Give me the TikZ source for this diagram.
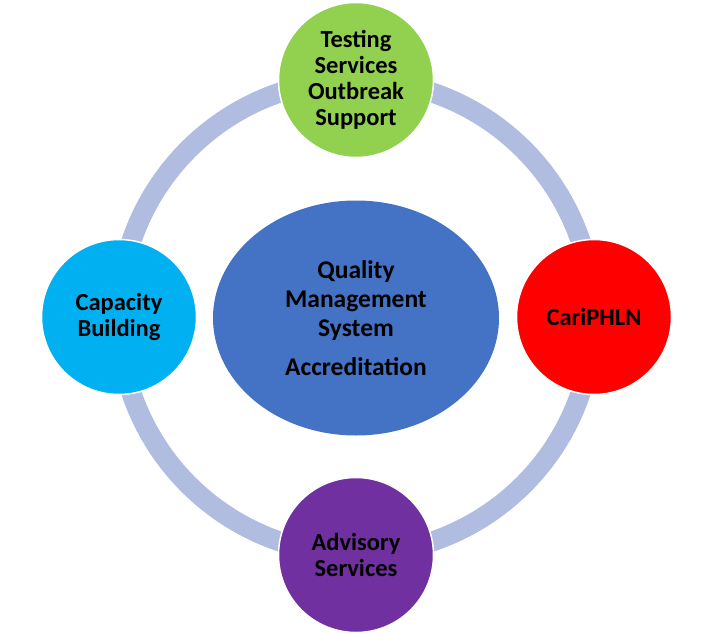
\documentclass[tikz,border=0pt]{standalone}
\usepackage{fontspec}
\setmainfont{Carlito}
\usetikzlibrary{shapes.geometric}
\definecolor{ringblue}{HTML}{B0BCE0}
\definecolor{hubblue}{HTML}{4472C4}
\definecolor{testgreen}{HTML}{92D050}
\definecolor{capcyan}{HTML}{00B0F0}
\definecolor{netred}{HTML}{FF0000}
\definecolor{advpurple}{HTML}{7030A0}

\begin{document}
\begin{tikzpicture}[x=1pt, y=-1pt,
  every node/.style={font=\fontsize{24.5}{26}\selectfont\bfseries, align=center, text=black},
  spoke/.style={circle, draw=white, line width=1.5pt, minimum size=155pt, inner sep=0pt},
  ring/.style={line width=20pt, ringblue}]
  \useasboundingbox (0,0) rectangle (712,634);
  \coordinate (C) at (356,317);
  \draw[ring] (C) circle (237pt);

  \node (QMS) at (356,318) [ellipse, fill=hubblue, inner sep=0pt, minimum width=286pt, minimum height=235pt, font=\fontsize{25.5}{29}\selectfont\bfseries] {Quality\\Management\\System\\[10pt]Accreditation};
  \node (TS) at (356,80) [spoke, fill=testgreen] {Testing\\Services\\Outbreak\\Support};
  \node (CB) at (119,317) [spoke, fill=capcyan] {Capacity\\Building};
  \node (CP) at (594,317) [spoke, fill=netred] {CariPHLN};
  \node (AS) at (356,555) [spoke, fill=advpurple] {Advisory\\Services};
\end{tikzpicture}
\end{document}
